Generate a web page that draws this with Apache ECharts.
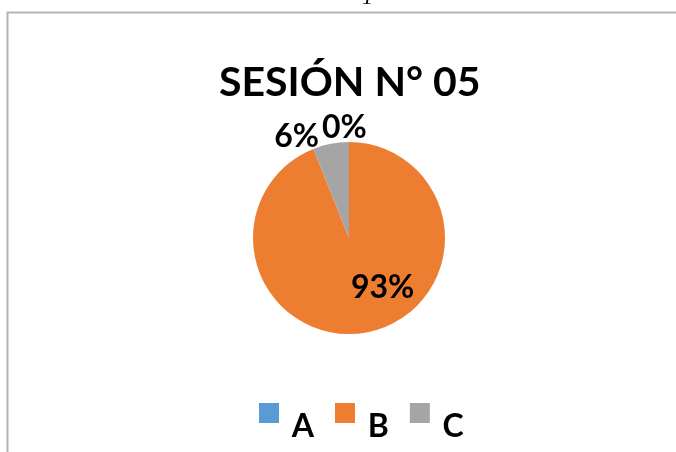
<!DOCTYPE html>
<html>
<head>
<meta charset="utf-8">
<script src="https://cdn.jsdelivr.net/npm/echarts@6/dist/echarts.min.js"></script>
<style>
  html, body { margin: 0; padding: 0; background: #fff; }
  #chart { width: 676px; height: 452px; }
</style>
</head>
<body>
<div id="chart"></div>
<script>
// datos de la sesión
const categorias = ['A', 'B', 'C'];
const porcentajes = [0, 93, 6];
const colores = ['#5B9BD5', '#ED7D31', '#A5A5A5'];

const chart = echarts.init(document.getElementById('chart'));

const fuente = 'Lato';

// desplazamiento de cada etiqueta respecto a su posición por defecto
const desplazamientos = { A: [-4, -8], B: [24, 0], C: [-6, -3] };

const datos = categorias.map((c, i) => ({
  name: c,
  value: porcentajes[i],
  itemStyle: { color: colores[i] },
  label: c === 'B'
    ? { show: true, position: 'inside', offset: desplazamientos[c] }
    : { show: true, position: 'outside', offset: desplazamientos[c] }
}));

// echarts no dibuja la etiqueta de un sector de valor 0, se pone aparte
const etiquetasCero = categorias
  .map((c, i) => ({ c, v: porcentajes[i] }))
  .filter(d => d.v === 0)
  .map(d => ({
    type: 'text',
    left: 322,
    top: 112,
    style: { text: d.v + '%', font: 'bold 32px ' + fuente, fill: '#000' }
  }));

const option = {
  animation: false,
  title: {
    text: 'SESIÓN N° 05',
    left: 214,
    top: 57,
    textStyle: { fontFamily: fuente, fontSize: 41, fontWeight: 'bold', color: '#000' }
  },
  legend: {
    data: categorias,
    left: 259,
    top: 383,
    padding: 0,
    icon: 'rect',
    itemWidth: 20,
    itemHeight: 20,
    itemGap: 21,
    formatter: name => '\n ' + name,
    textStyle: { fontFamily: fuente, fontSize: 32, fontWeight: 'bold', color: '#000', lineHeight: 28 }
  },
  graphic: [
    { type: 'line', shape: { x1: 7, y1: 12.5, x2: 676, y2: 12.5 }, style: { stroke: '#b4b4b4', lineWidth: 2 } },
    { type: 'line', shape: { x1: 7.5, y1: 12, x2: 7.5, y2: 452 }, style: { stroke: '#b4b4b4', lineWidth: 2 } },
    { type: 'text', left: 362, top: -13, style: { text: '1', font: 'italic 22px "Liberation Serif"', fill: '#000' } }
  ].concat(etiquetasCero),
  series: [{
    type: 'pie',
    center: [349, 238],
    radius: 96,
    startAngle: 90,
    clockwise: true,
    avoidLabelOverlap: false,
    label: {
      show: true,
      position: 'outside',
      formatter: p => p.value + '%',
      fontFamily: fuente,
      fontSize: 32,
      fontWeight: 'bold',
      color: '#000'
    },
    labelLine: { show: false, length: 4, length2: 0 },
    emphasis: { disabled: true },
    data: datos
  }]
};

chart.setOption(option);
</script>
</body>
</html>
